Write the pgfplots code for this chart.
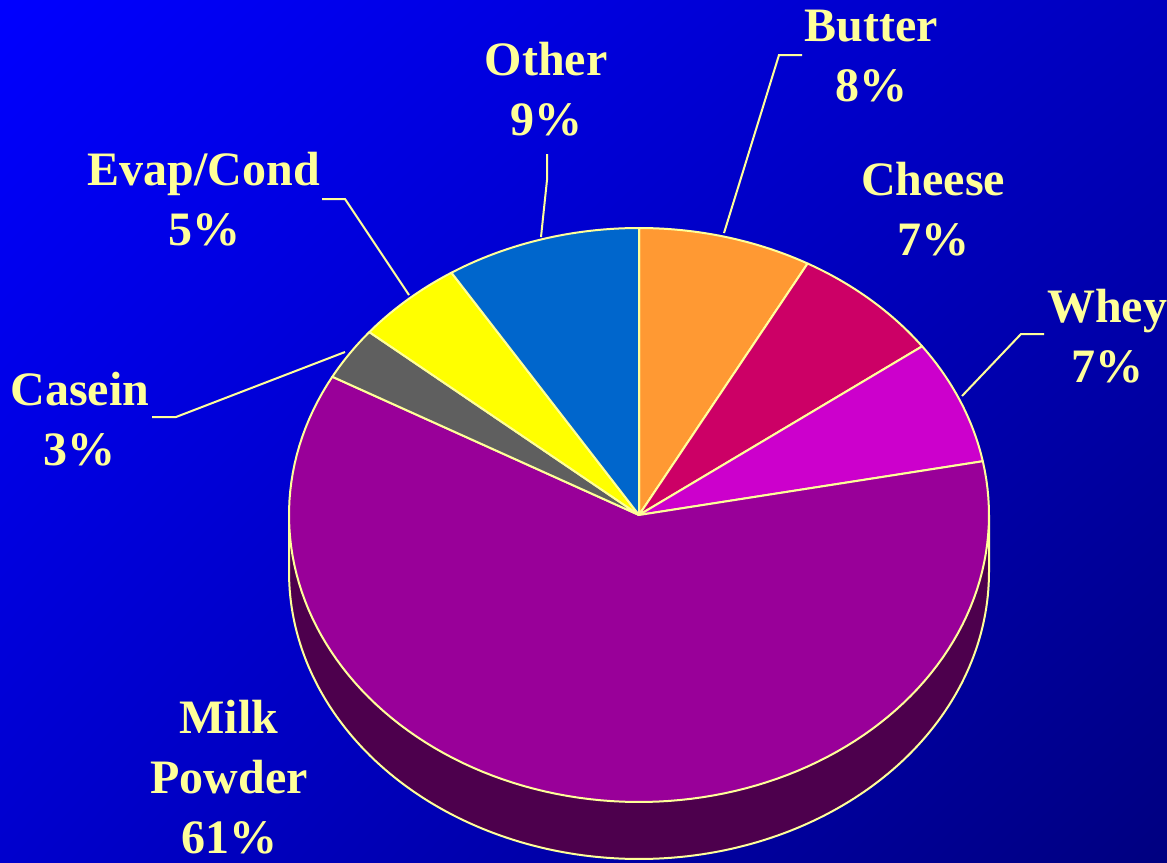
\documentclass[border=0pt]{standalone}
\usepackage{pgfplots}
\pgfplotsset{compat=1.18}
\usetikzlibrary{shadings}
\usepackage{fontspec}
\setmainfont{Liberation Serif}
\definecolor{bgA}{RGB}{0,0,255}
\definecolor{bgUR}{RGB}{0,0,190}
\definecolor{bgLL}{RGB}{0,0,205}
\definecolor{bgC}{RGB}{0,0,128}
\definecolor{edge}{RGB}{255,255,153}
\definecolor{cButter}{RGB}{255,153,51}
\definecolor{cCheese}{RGB}{204,0,102}
\definecolor{cWhey}{RGB}{204,0,204}
\definecolor{cMilk}{RGB}{153,0,153}
\definecolor{cCasein}{RGB}{95,95,95}
\definecolor{cEvap}{RGB}{255,255,0}
\definecolor{cOther}{RGB}{0,102,204}
\definecolor{cSide}{RGB}{77,0,77}
\tikzset{lab/.style={text=edge, font=\bfseries\fontsize{24}{30}\selectfont, align=center, inner sep=0pt, anchor=north}}
% slice: cumulative start (%), value (%), colour
\newcommand{\pieslice}[3]{%
  \pgfmathsetmacro{\aA}{90-3.6*(#1+#2)}%
  \pgfmathsetmacro{\aB}{90-3.6*(#1)}%
  \edef\tmp{\noexpand\addplot[fill=#3, draw=edge, line width=1pt, line join=round, domain=\aA:\aB, samples=120]
    ({639+350*cos(x)}, {515-287*sin(x)}) -- (axis cs:639,515) -- cycle;}%
  \tmp}
\begin{document}
\begin{tikzpicture}
\useasboundingbox (0,0) rectangle (583.5pt,431pt);
\shade[upper left=bgA, upper right=bgUR, lower left=bgLL, lower right=bgC] (0,0) rectangle (583.5pt,431pt);
\begin{axis}[
  at={(0,0)}, anchor=south west,
  width=583.5pt, height=431pt, scale only axis,
  xmin=0, xmax=1167, ymin=0, ymax=862, y dir=reverse,
  hide axis, clip=false,
]
% side of the pie (depth)
\addplot[fill=cSide, draw=edge, line width=1pt, line join=round, domain=180:360, samples=150]
  ({639+350*cos(x)}, {572-287*sin(x)}) -- (axis cs:989,515) -- (axis cs:289,515) -- cycle;
% slices: Butter 8, Cheese 7, Whey 7, Milk Powder 61, Casein 3, Evap/Cond 5, Other 9
\pieslice{0}{8}{cButter}
\pieslice{8}{7}{cCheese}
\pieslice{15}{7}{cWhey}
\pieslice{22}{61}{cMilk}
\pieslice{83}{3}{cCasein}
\pieslice{86}{5}{cEvap}
\pieslice{91}{9}{cOther}
% leader lines
\draw[edge, line width=1pt] (axis cs:802,55) -- (axis cs:779,55) -- (axis cs:724,233);
\draw[edge, line width=1pt] (axis cs:547,154) -- (axis cs:547,180) -- (axis cs:541,237);
\draw[edge, line width=1pt] (axis cs:322,199) -- (axis cs:345,199) -- (axis cs:409,295);
\draw[edge, line width=1pt] (axis cs:152,417) -- (axis cs:176,417) -- (axis cs:345,352);
\draw[edge, line width=1pt] (axis cs:1044,334) -- (axis cs:1021,334) -- (axis cs:962,396);
% labels
\node[lab] at (axis cs:871,10) {Butter\\8\%};
\node[lab] at (axis cs:933,162) {Cheese\\7\%};
\node[lab] at (axis cs:1107,289) {Whey\\7\%};
\node[lab] at (axis cs:546,42) {Other\\9\%};
\node[lab] at (axis cs:204,152) {Evap/Cond\\5\%};
\node[lab] at (axis cs:80,372) {Casein\\3\%};
\node[lab] at (axis cs:229,700) {Milk\\Powder\\61\%};
\end{axis}
\end{tikzpicture}
\end{document}
